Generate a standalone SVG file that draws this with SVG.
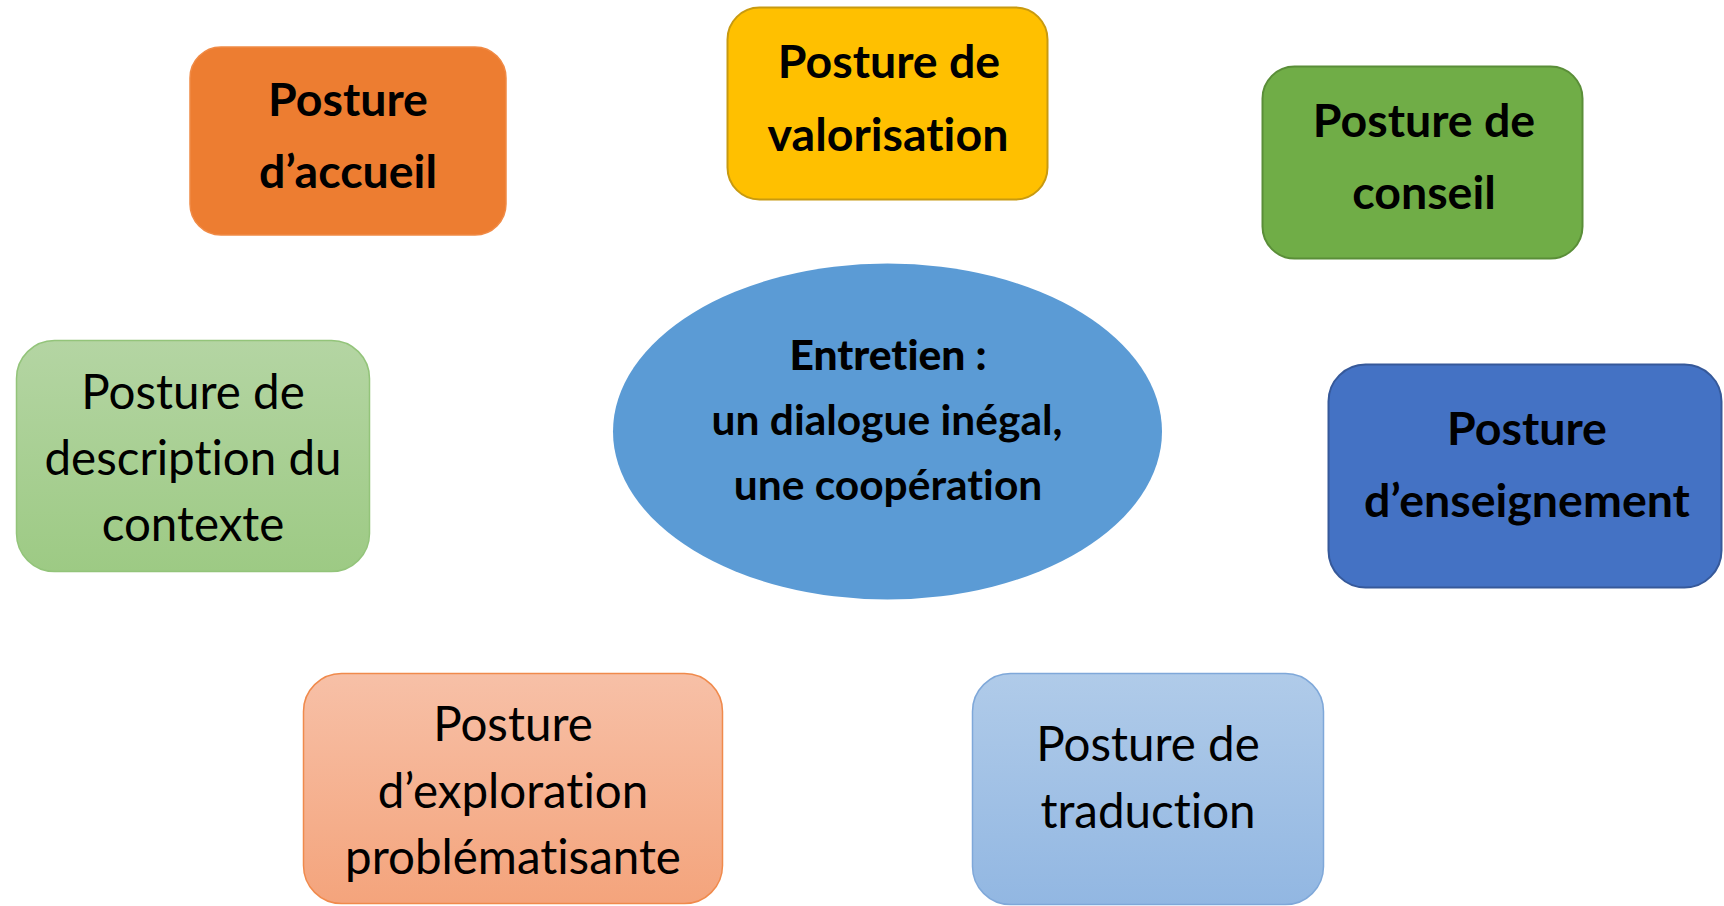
<svg xmlns="http://www.w3.org/2000/svg" width="1724" height="906" viewBox="0 0 1724 906">
<defs>
<linearGradient id="gLightGreen" x1="0" y1="0" x2="0" y2="1"><stop offset="0" stop-color="#B4D5A3"/><stop offset="1" stop-color="#9DCA84"/></linearGradient>
<linearGradient id="gSalmon" x1="0" y1="0" x2="0" y2="1"><stop offset="0" stop-color="#F7C0A7"/><stop offset="1" stop-color="#F4A47C"/></linearGradient>
<linearGradient id="gLightBlue" x1="0" y1="0" x2="0" y2="1"><stop offset="0" stop-color="#B0CBE9"/><stop offset="1" stop-color="#92B7E2"/></linearGradient>
</defs>
<style>
text{font-family:Lato,"Open Sans","Liberation Sans",sans-serif;fill:#000;text-anchor:middle;font-variant-ligatures:none;font-feature-settings:"liga" 0,"dlig" 0}
.b{font-weight:700;font-size:46.5px}
.r{font-weight:400;font-size:47.5px}
.e{font-weight:700;font-size:42.5px}
.eh{font-weight:900;font-size:42.5px}
</style>
<rect width="1724" height="906" fill="#FFFFFF"/>
<g id="connectors"/>
<g id="center">
<ellipse cx="887.5" cy="431.5" rx="274.5" ry="168" fill="#5B9BD5"/>
<text class="eh" x="888" y="370">Entretien :</text>
<text class="e" x="887" y="435">un dialogue inégal,</text>
<text class="e" x="888" y="500">une coopération</text>
</g>
<g id="accueil">
<rect x="190" y="47" width="316" height="188" rx="31" fill="#ED7D31" stroke="#F08A45" stroke-width="1.5"/>
<text class="b" x="348" y="116">Posture</text>
<text class="b" x="348" y="188">d’accueil</text>
</g>
<g id="valorisation">
<rect x="727.5" y="7.5" width="320" height="192" rx="32" fill="#FFC000" stroke="#C89A10" stroke-width="2"/>
<text class="b" x="889" y="77.5">Posture de</text>
<text class="b" x="888" y="151">valorisation</text>
</g>
<g id="conseil">
<rect x="1262.5" y="66.5" width="320" height="192" rx="32" fill="#70AD47" stroke="#5A8E38" stroke-width="2"/>
<text class="b" x="1424" y="137">Posture de</text>
<text class="b" x="1424" y="209">conseil</text>
</g>
<g id="enseignement">
<rect x="1328.5" y="364.5" width="393" height="223" rx="37" fill="#4472C4" stroke="#36599A" stroke-width="2"/>
<text class="b" x="1527" y="445">Posture</text>
<text class="b" x="1527" y="517">d’enseignement</text>
</g>
<g id="description">
<rect x="16.5" y="340.5" width="353" height="231" rx="38" fill="url(#gLightGreen)" stroke="#93C47A" stroke-width="1.5"/>
<text class="r" x="193" y="409">Posture de</text>
<text class="r" x="193" y="475">description du</text>
<text class="r" x="193" y="541">contexte</text>
</g>
<g id="exploration">
<rect x="303.5" y="673.5" width="419" height="230" rx="38" fill="url(#gSalmon)" stroke="#F08A4C" stroke-width="1.5"/>
<text class="r" x="513" y="741">Posture</text>
<text class="r" x="513" y="808">d’exploration</text>
<text class="r" x="513" y="874">problématisante</text>
</g>
<g id="traduction">
<rect x="972.5" y="673.5" width="351" height="231" rx="38" fill="url(#gLightBlue)" stroke="#7FA8D9" stroke-width="1.5"/>
<text class="r" x="1148" y="761">Posture de</text>
<text class="r" x="1148" y="828">traduction</text>
</g>
</svg>
